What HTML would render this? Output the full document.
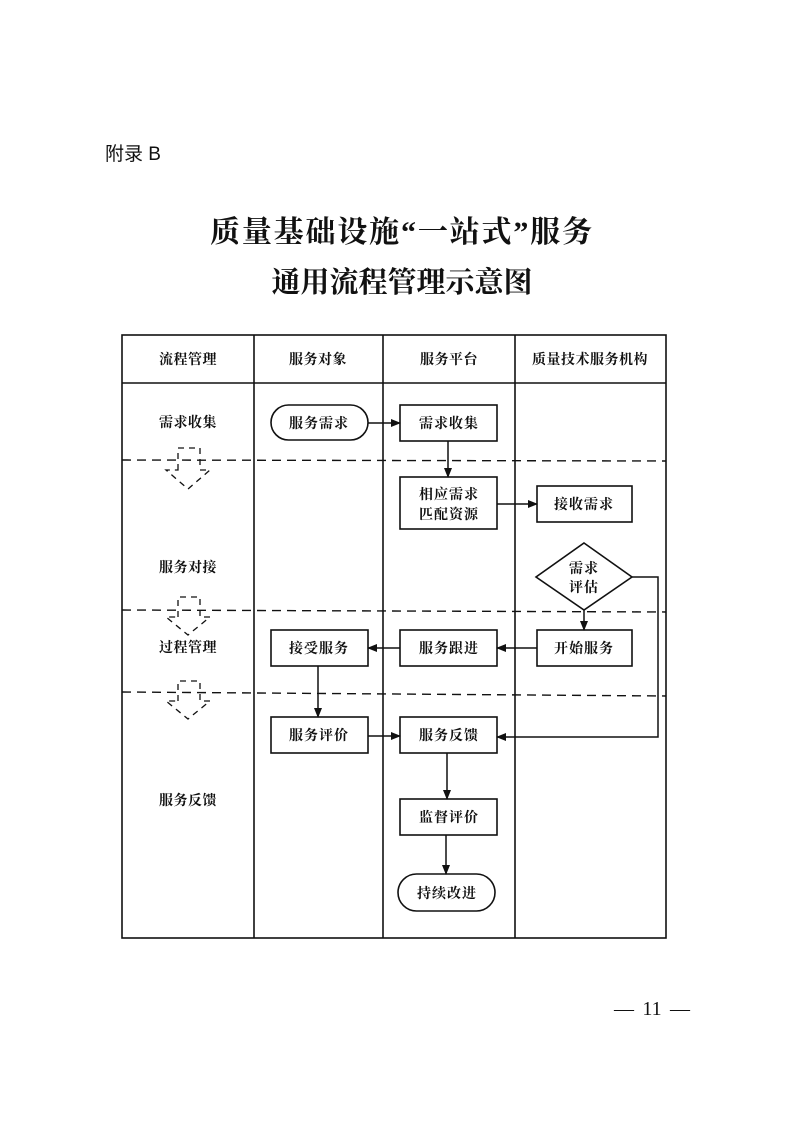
<!DOCTYPE html>
<html><head><meta charset="utf-8"><style>
html,body{margin:0;padding:0;background:#fff;}
body{width:794px;height:1122px;overflow:hidden;}
svg text{font-family:"Liberation Serif","Noto Serif CJK SC","Noto Sans CJK SC",serif;fill:#111;}
</style></head><body>
<svg width="794" height="1122" viewBox="0 0 794 1122" xmlns="http://www.w3.org/2000/svg">
<defs>
<marker id="ah" markerWidth="10" markerHeight="8" refX="9" refY="4" orient="auto" markerUnits="userSpaceOnUse">
<path d="M0,0 L10,4 L0,8 Z" fill="#111"/></marker>
</defs>
<text x="105" y="160" font-size="19" style="font-family:'Liberation Sans','Noto Sans CJK SC',sans-serif">附录 B</text>
<text x="210" y="242" font-size="30" font-weight="bold" textLength="382" lengthAdjust="spacing">质量基础设施“一站式”服务</text>
<text x="402" y="292" font-size="29" font-weight="bold" text-anchor="middle">通用流程管理示意图</text>

<g stroke="#111" stroke-width="1.6" fill="none">
<rect x="122" y="335" width="544" height="603"/>
<line x1="122" y1="383" x2="666" y2="383"/>
<line x1="254" y1="335" x2="254" y2="938"/>
<line x1="383" y1="335" x2="383" y2="938"/>
<line x1="515" y1="335" x2="515" y2="938"/>
</g>
<g stroke="#111" stroke-width="1.4" stroke-dasharray="9,6">
<line x1="122" y1="460" x2="666" y2="461"/>
<line x1="122" y1="610" x2="666" y2="612"/>
<line x1="122" y1="692" x2="666" y2="696"/>
</g>
<g stroke="#111" stroke-width="1.3" stroke-dasharray="6,5" fill="none">
<path d="M178,470 L178,448 L200,448 L200,470 L210,470 L188,489 L166,470 Z"/>
<path d="M178,617 L178,597 L200,597 L200,617 L210,617 L188,635 L166,617 Z"/>
<path d="M178,701 L178,681 L200,681 L200,701 L210,701 L188,719 L166,701 Z"/>
</g>

<g font-size="14" font-weight="bold" text-anchor="middle" letter-spacing="0.5">
<text x="188" y="364">流程管理</text>
<text x="318" y="364">服务对象</text>
<text x="449" y="364">服务平台</text>
<text x="590" y="364">质量技术服务机构</text>
<text x="188" y="427">需求收集</text>
<text x="188" y="572">服务对接</text>
<text x="188" y="652">过程管理</text>
<text x="188" y="805">服务反馈</text>
</g>

<g stroke="#111" stroke-width="1.6" fill="#fff">
<rect x="271" y="405" width="97" height="35" rx="17.5"/>
<rect x="400" y="405" width="97" height="36"/>
<rect x="400" y="477" width="97" height="52"/>
<rect x="537" y="486" width="95" height="36"/>
<path d="M584,543 L632,577 L584,610 L536,577 Z"/>
<rect x="537" y="630" width="95" height="36"/>
<rect x="400" y="630" width="97" height="36"/>
<rect x="271" y="630" width="97" height="36"/>
<rect x="271" y="717" width="97" height="36"/>
<rect x="400" y="717" width="97" height="36"/>
<rect x="400" y="799" width="97" height="36"/>
<rect x="398" y="874" width="97" height="37" rx="18.5"/>
</g>

<g font-size="14" font-weight="bold" text-anchor="middle" letter-spacing="1">
<text x="319" y="428">服务需求</text>
<text x="449" y="428">需求收集</text>
<text x="449" y="499">相应需求</text>
<text x="449" y="519">匹配资源</text>
<text x="584" y="509">接收需求</text>
<text x="584" y="573">需求</text>
<text x="584" y="592">评估</text>
<text x="584" y="653">开始服务</text>
<text x="449" y="653">服务跟进</text>
<text x="319" y="653">接受服务</text>
<text x="319" y="740">服务评价</text>
<text x="449" y="740">服务反馈</text>
<text x="449" y="822">监督评价</text>
<text x="447" y="898">持续改进</text>
</g>

<g stroke="#111" stroke-width="1.5" fill="none" marker-end="url(#ah)">
<line x1="368" y1="423" x2="400" y2="423"/>
<line x1="448" y1="441" x2="448" y2="477"/>
<line x1="497" y1="504" x2="537" y2="504"/>
<line x1="584" y1="610" x2="584" y2="630"/>
<line x1="537" y1="648" x2="497" y2="648"/>
<line x1="400" y1="648" x2="368" y2="648"/>
<line x1="318" y1="666" x2="318" y2="717"/>
<line x1="368" y1="736" x2="400" y2="736"/>
<polyline points="632,577 658,577 658,737 497,737"/>
<line x1="447" y1="753" x2="447" y2="799"/>
<line x1="446" y1="835" x2="446" y2="874"/>
</g>

<text x="624" y="1015" font-size="20" text-anchor="middle">—</text>
<text x="652" y="1015" font-size="20" text-anchor="middle">11</text>
<text x="680" y="1015" font-size="20" text-anchor="middle">—</text>
</svg>
</body></html>
